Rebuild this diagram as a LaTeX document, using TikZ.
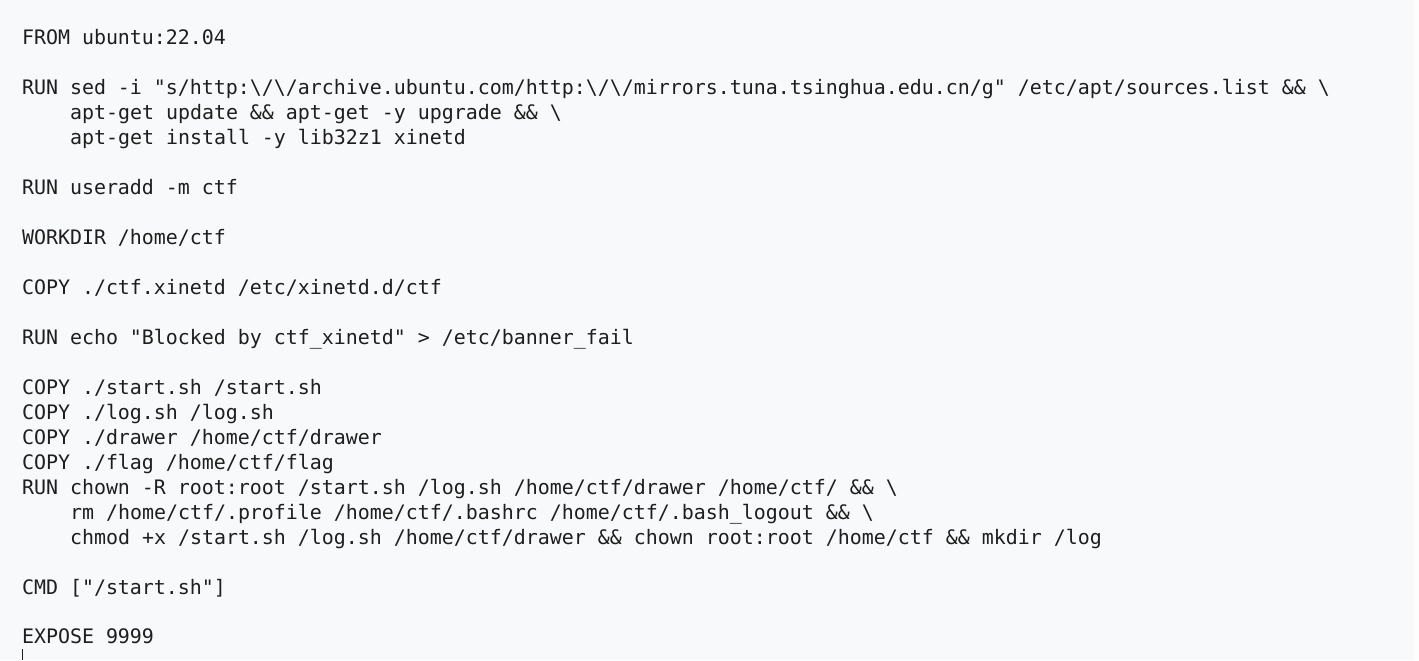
\documentclass[tikz,border=0pt]{standalone}
\usepackage{fontspec}
\newfontfamily\codefont{DejaVu Sans Mono}
\newcommand\bs{\textbackslash}
\newcommand\codesetup{\codefont\fontsize{14.95pt}{18pt}\selectfont\frenchspacing}
\definecolor{bgc}{HTML}{F8F9FA}
\definecolor{stripc}{HTML}{FDFDFD}
\definecolor{txtc}{HTML}{1E1E1E}
\tikzset{
  codeline/.style={anchor=base west, inner sep=0pt, outer sep=0pt, text=txtc,
    font={\codesetup}}
}
\begin{document}
\begin{tikzpicture}[x=0.75pt,y=-0.75pt]
\useasboundingbox (0,0) rectangle (1419,660);
\fill[bgc] (0,0) rectangle (1419,660);
\fill[stripc] (1414,0) rectangle (1419,660);
\node[codeline] (l0) at (22,44.5) {FROM ubuntu:22.04};
\node[codeline] (l2) at (22,94.5) {RUN sed -i "s/http:\bs/\bs/archive.ubuntu.com/http:\bs/\bs/mirrors.tuna.tsinghua.edu.cn/g" /etc/apt/sources.list \&\& \bs};
\node[codeline] (l3) at (70,119.5) {apt-get update \&\& apt-get -y upgrade \&\& \bs};
\node[codeline] (l4) at (70,144.5) {apt-get install -y lib32z1 xinetd};
\node[codeline] (l6) at (22,194.5) {RUN useradd -m ctf};
\node[codeline] (l8) at (22,244.5) {WORKDIR /home/ctf};
\node[codeline] (l10) at (22,294.5) {COPY ./ctf.xinetd /etc/xinetd.d/ctf};
\node[codeline] (l12) at (22,344.5) {RUN echo "Blocked by ctf\_xinetd" > /etc/banner\_fail};
\node[codeline] (l14) at (22,394.5) {COPY ./start.sh /start.sh};
\node[codeline] (l15) at (22,419.5) {COPY ./log.sh /log.sh};
\node[codeline] (l16) at (22,444.5) {COPY ./drawer /home/ctf/drawer};
\node[codeline] (l17) at (22,469.5) {COPY ./flag /home/ctf/flag};
\node[codeline] (l18) at (22,494.5) {RUN chown -R root:root /start.sh /log.sh /home/ctf/drawer /home/ctf/ \&\& \bs};
\node[codeline] (l19) at (70,519.5) {rm /home/ctf/.profile /home/ctf/.bashrc /home/ctf/.bash\_logout \&\& \bs};
\node[codeline] (l20) at (70,544.5) {chmod +x /start.sh /log.sh /home/ctf/drawer \&\& chown root:root /home/ctf \&\& mkdir /log};
\node[codeline] (l22) at (22,594.5) {CMD ["/start.sh"]};
\node[codeline] (l24) at (22,643.5) {EXPOSE 9999};
\coordinate (curtop) at (22.5,649);
\coordinate (curbot) at (22.5,660);
\draw[txtc, line width=0.9pt] (curtop) -- (curbot);
\end{tikzpicture}
\end{document}
